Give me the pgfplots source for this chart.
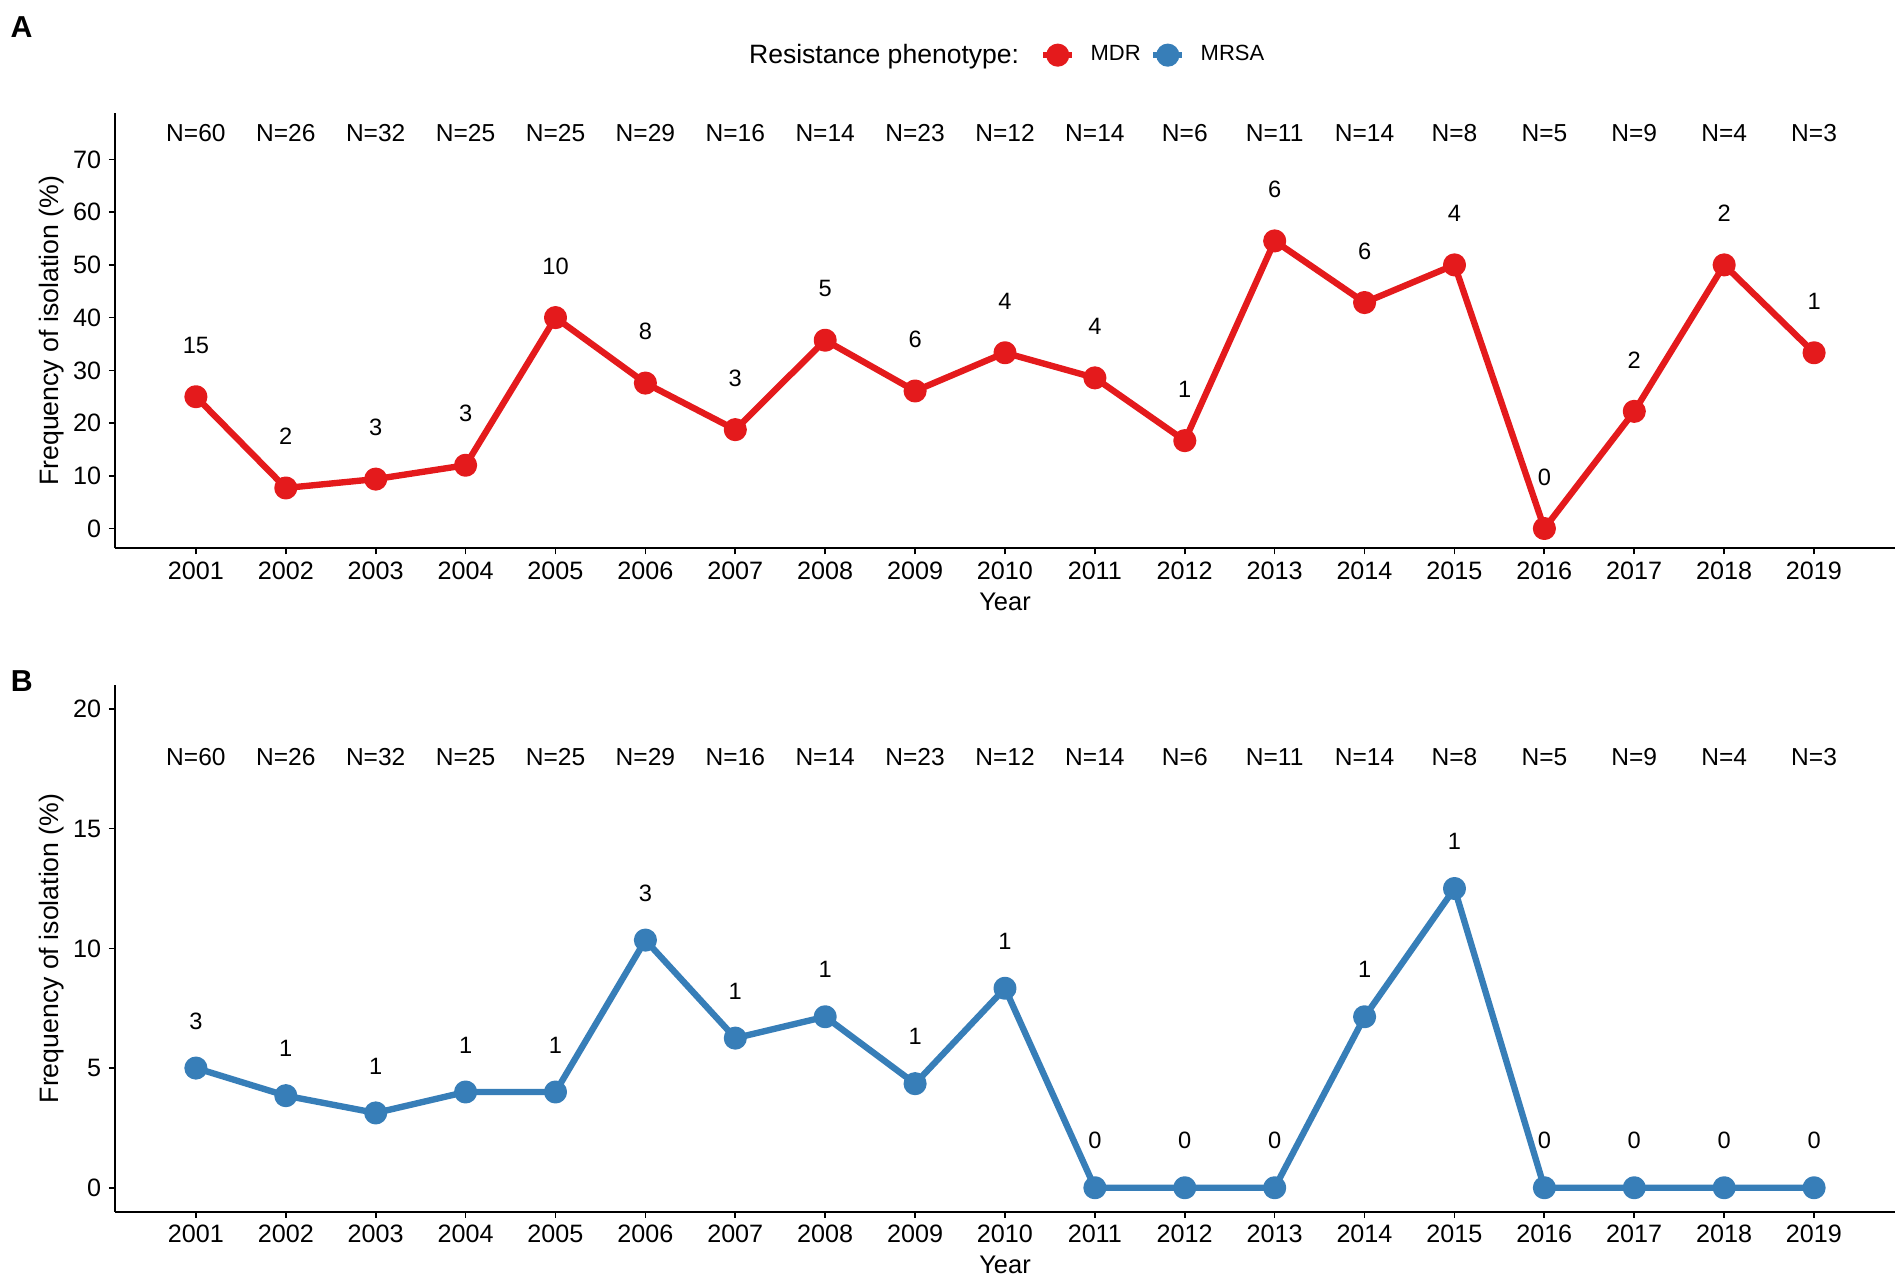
\documentclass[border=0pt]{standalone}
\usepackage{fontspec}
\setmainfont{Liberation Sans}
\usepackage{pgfplots}
\usepackage{pgfplotstable}
\pgfplotsset{compat=1.18}
\definecolor{mdr}{HTML}{E41A1C}
\definecolor{mrsa}{HTML}{377EB8}
\newcommand\ticksize{\fontsize{8.3}{10}\selectfont}
\newcommand\labsize{\fontsize{8.4}{10}\selectfont}
\newcommand\ylabsize{\fontsize{8.8}{10}\selectfont}
\newcommand\nsize{\fontsize{8.1}{10}\selectfont}
\newcommand\cntsize{\fontsize{7.8}{9}\selectfont}
\newcommand\legsize{\fontsize{7.25}{9}\selectfont}

\pgfplotstableread{
year pct n
2001 25.000 15
2002 7.692 2
2003 9.375 3
2004 12.000 3
2005 40.000 10
2006 27.586 8
2007 18.750 3
2008 35.714 5
2009 26.087 6
2010 33.333 4
2011 28.571 4
2012 16.667 1
2013 54.545 6
2014 42.857 6
2015 50.000 4
2016 0.000 0
2017 22.222 2
2018 50.000 2
2019 33.333 1
}\mdrtable

\pgfplotstableread{
year pct n
2001 5.000 3
2002 3.846 1
2003 3.125 1
2004 4.000 1
2005 4.000 1
2006 10.345 3
2007 6.250 1
2008 7.143 1
2009 4.348 1
2010 8.333 1
2011 0.000 0
2012 0.000 0
2013 0.000 0
2014 7.143 1
2015 12.500 1
2016 0.000 0
2017 0.000 0
2018 0.000 0
2019 0.000 0
}\mrsatable

\pgfplotsset{
  panel/.style={
    scale only axis, width=587.4pt,
    xmin=2000.1, xmax=2019.9,
    axis x line*=bottom, axis y line*=left,
    axis line style={line width=0.55pt,-},
    tick align=outside, major tick length=2pt,
    tick style={line width=0.55pt, black},
    xtick={2001,...,2019},
    /pgf/number format/1000 sep={},
    /pgf/number format/assume math mode=true,
    tick label style={font=\ticksize},
    xticklabel style={anchor=center, yshift=-5.4pt},
    yticklabel style={anchor=east, inner xsep=0pt, xshift=-2.4pt},
    xlabel={Year},
    every axis x label/.style={at={(axis description cs:0.5,0)}, anchor=center, yshift=-17.6pt, font=\labsize},
    every axis y label/.style={at={(axis description cs:-0.0357,0.5)}, rotate=90, anchor=center, font=\ylabsize},
    ylabel={Frequency of isolation (\%)},
    clip=false,
  },
  nlab/.style={draw=none, mark=none, forget plot, nodes near coords, point meta=explicit symbolic,
    every node near coord/.style={anchor=center, text=black, font=\nsize, inner sep=0pt}},
}

\begin{document}
\begin{tikzpicture}
\path[use as bounding box] (0,0) rectangle (627.66pt,423.39pt);

% Panel A
\begin{axis}[panel,
  at={(37.95pt,242.45pt)}, anchor=south west, height=143.55pt,
  ymin=-3.75, ymax=78.75, ytick={0,10,...,70},
  legend style={at={(0.5197,1.1337)}, anchor=west, draw=none, fill=none, inner sep=0pt, outer sep=0pt,
    font=\legsize, nodes={inner sep=0pt}, column sep=0pt,
    /tikz/every odd column/.append style={column sep=5.0pt},
    /tikz/every even column/.append style={column sep=3.1pt}},
  legend columns=-1,
  legend image code/.code={\draw[#1, line cap=butt, mark=none] (0pt,0pt) -- (9.6pt,0pt); \draw[#1] plot coordinates {(4.8pt,0pt)};},
]
\addplot[mdr, line width=2.1pt, line join=round, mark=*, mark size=2.75pt, mark options={draw=none, fill=mdr},
  nodes near coords, point meta=explicit symbolic,
  every node near coord/.style={anchor=center, yshift=17pt, text=black, font=\cntsize, inner sep=0pt}]
  table[x=year, y=pct, meta=n] {\mdrtable};
\addlegendentry{MDR}
\addlegendimage{mrsa, line width=2.1pt, mark=*, mark size=2.75pt, mark options={draw=none, fill=mrsa}}
\addlegendentry{MRSA}
\addplot[nlab] coordinates {
(2001,75)[N=60] (2002,75)[N=26] (2003,75)[N=32] (2004,75)[N=25] (2005,75)[N=25]
(2006,75)[N=29] (2007,75)[N=16] (2008,75)[N=14] (2009,75)[N=23] (2010,75)[N=12]
(2011,75)[N=14] (2012,75)[N=6] (2013,75)[N=11] (2014,75)[N=14] (2015,75)[N=8]
(2016,75)[N=5] (2017,75)[N=9] (2018,75)[N=4] (2019,75)[N=3]};
\end{axis}

% Panel B
\begin{axis}[panel,
  at={(37.95pt,23.53pt)}, anchor=south west, height=173.8pt,
  ymin=-1, ymax=21, ytick={0,5,...,20},
]
\addplot[mrsa, line width=2.1pt, line join=round, mark=*, mark size=2.75pt, mark options={draw=none, fill=mrsa},
  nodes near coords, point meta=explicit symbolic,
  every node near coord/.style={anchor=center, yshift=15.5pt, text=black, font=\cntsize, inner sep=0pt}]
  table[x=year, y=pct, meta=n] {\mrsatable};
\addplot[nlab] coordinates {
(2001,18)[N=60] (2002,18)[N=26] (2003,18)[N=32] (2004,18)[N=25] (2005,18)[N=25]
(2006,18)[N=29] (2007,18)[N=16] (2008,18)[N=14] (2009,18)[N=23] (2010,18)[N=12]
(2011,18)[N=14] (2012,18)[N=6] (2013,18)[N=11] (2014,18)[N=14] (2015,18)[N=8]
(2016,18)[N=5] (2017,18)[N=9] (2018,18)[N=4] (2019,18)[N=3]};
\end{axis}

\node[anchor=base west, font=\fontsize{8.76}{10}\selectfont, inner sep=0pt] at (247.0pt,402.4pt) {Resistance phenotype:};
\node[font=\bfseries\fontsize{10}{12}\selectfont, inner sep=0pt] at (7.15pt,414.5pt) {A};
\node[font=\bfseries\fontsize{10}{12}\selectfont, inner sep=0pt] at (7.2pt,198.5pt) {B};
\end{tikzpicture}
\end{document}
